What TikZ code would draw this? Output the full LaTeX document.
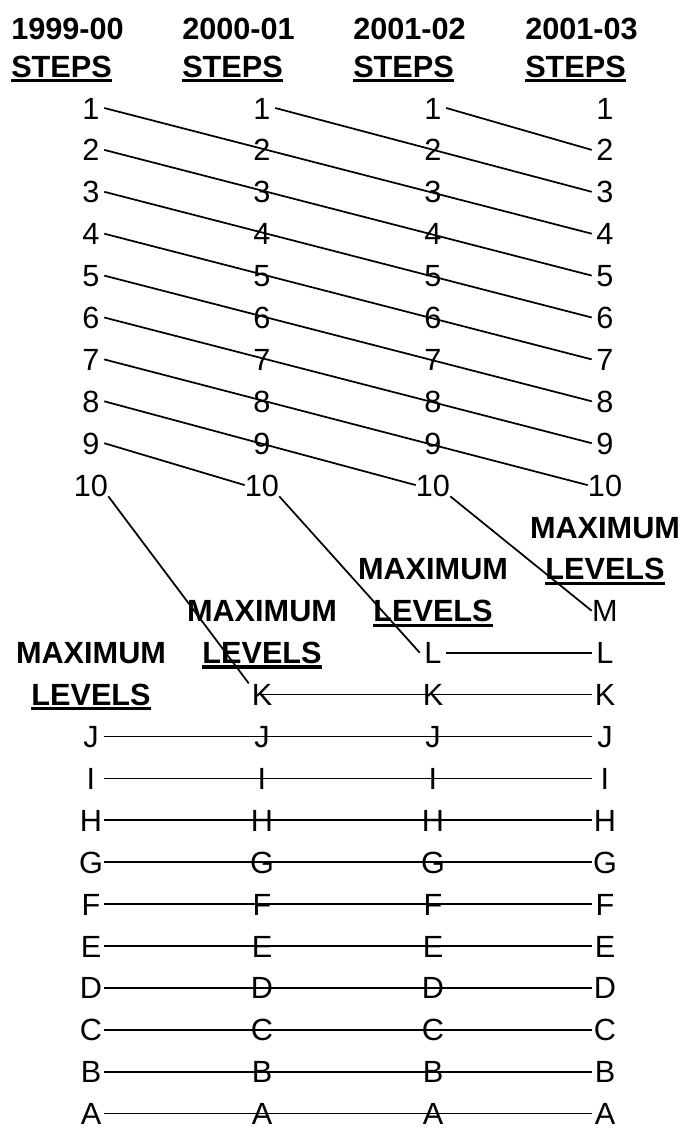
\documentclass[tikz,border=0pt]{standalone}
\usepackage{fontspec}
\setmainfont{Liberation Sans}
\newsavebox{\soulbox}
\newcommand{\souligne}[1]{\sbox{\soulbox}{#1}\rlap{\rule[-3.6pt]{\wd\soulbox}{2.3pt}}\usebox{\soulbox}}
\begin{document}
\begin{tikzpicture}[x=0.75pt, y=-0.75pt, font=\fontsize{23}{27}\selectfont,
  pas/.style={inner sep=0pt, minimum width=19.5pt, text height=16.5pt, text depth=0pt},
  titre/.style={pas, anchor=west, font=\fontsize{23}{27}\selectfont\bfseries},
  trait/.style={line width=1.3pt}
]
  \useasboundingbox (0,0) rectangle (681,1129);
  % En-têtes
  \foreach \c/\x/\an in {1/91/1999-00, 2/262/2000-01, 3/433/2001-02, 4/605/2001-03} {
    \node[titre] (an\c) at (\x-80, 28) {\an};
    \node[titre] (st\c) at (\x-80, 66) {\souligne{STEPS}};
  }
  % Échelons
  \foreach \c/\x in {1/91, 2/262, 3/433, 4/605}
    \foreach \k in {1,...,10}
      \node[pas] (s\c-\k) at (\x, {108+(\k-1)*41.9}) {\k};
  % Niveaux maximums
  \foreach \c/\x/\premier in {1/91/16, 2/262/15, 3/433/14, 4/605/13} {
    \node[pas, font=\fontsize{23}{27}\selectfont\bfseries] (max\c) at (\x, {108+(\premier-3)*41.9}) {MAXIMUM};
    \node[pas, font=\fontsize{23}{27}\selectfont\bfseries] (lev\c) at (\x, {108+(\premier-2)*41.9}) {\souligne{LEVELS}};
    \foreach \r/\lettre in {13/M, 14/L, 15/K, 16/J, 17/I, 18/H, 19/G, 20/F, 21/E, 22/D, 23/C, 24/B, 25/A} {
      \ifnum\r<\premier\else
        \node[pas] (n\c-\lettre) at (\x, {108+(\r-1)*41.9}) {\lettre};
      \fi
    }
  }
  % Passages d'échelons
  \foreach \k [evaluate=\k as \e using int(\k+3)] in {1,...,7}
    \draw[trait] (s1-\k.east) -- (s4-\e.west);
  \draw[trait] (s1-8.east) -- (s3-10.west);
  \draw[trait] (s1-9.east) -- (s2-10.west);
  \draw[trait] (s2-1.east) -- (s4-3.west);
  \draw[trait] (s3-1.east) -- (s4-2.west);
  % Vers les niveaux
  \draw[trait] (s1-10.south east) -- (n2-K.north west);
  \draw[trait] (s2-10.south east) -- (n3-L.west);
  \draw[trait] (s3-10.south east) -- (n4-M.west);
  % Niveaux conservés
  \foreach \lettre in {J, I, H, G, F, E, D, C, B, A}
    \draw[trait] (n1-\lettre.east) -- (n4-\lettre.west);
  \draw[trait] (n2-K.center) -- (n4-K.west);
  \draw[trait] (n3-L.east) -- (n4-L.west);
\end{tikzpicture}
\end{document}
